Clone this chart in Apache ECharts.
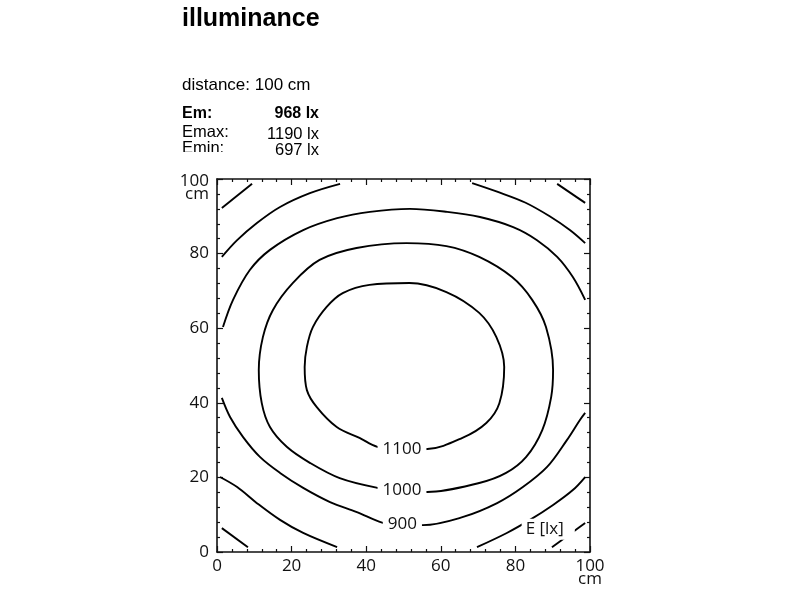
<!DOCTYPE html>
<html><head><meta charset="utf-8">
<script src="https://cdn.jsdelivr.net/npm/echarts@6/dist/echarts.min.js"></script>
<style>html,body{margin:0;padding:0;background:#fff}#c{width:800px;height:600px}</style>
</head><body><div id="c"></div>
<script>
// Axis ticks
const tickValues = [0, 20, 40, 60, 80, 100];
const axisUnit = 'cm';
// Contour lines (x cm, y cm)
const c1100 = [[49.7,27.5],[43.0,28.2],[38.2,30.6],[32.1,33.5],[26.7,38.9],[24.1,43.4],[23.5,49.6],[24.1,55.0],[25.7,60.3],[29.4,65.7],[33.7,69.4],[40.9,71.6],[51.6,72.1],[61.5,69.7],[70.3,64.1],[74.9,57.6],[77.0,49.6],[75.7,39.9],[72.2,34.6],[65.8,30.6],[56.4,27.6],[49.7,27.5]];
const c1000 = [[49.7,16.4],[43.0,17.2],[32.9,19.8],[24.9,23.9],[18.7,28.2],[14.2,33.5],[12.0,39.9],[11.2,48.8],[12.3,57.6],[15.0,64.9],[20.3,72.1],[27.5,78.3],[37.4,81.5],[50.8,82.8],[61.5,82.0],[70.3,79.1],[79.1,73.7],[84.5,67.6],[88.2,60.3],[90.1,48.8],[89.6,41.6],[87.2,32.7],[82.9,25.5],[77.5,21.2],[70.3,18.5],[56.4,16.1],[49.7,16.4]];
const c900top = [[1.6,60.3],[4.3,67.6],[8.8,75.6],[14.2,81.0],[23.1,86.3],[32.2,89.5],[41.0,91.2],[51.7,92.0],[61.7,91.2],[70.5,89.8],[79.4,87.1],[85.8,83.6],[91.2,79.1],[95.4,73.7],[98.7,67.6]];
const c900bottom = [[1.3,41.3],[3.5,36.2],[7.0,30.8],[11.5,25.5],[16.9,21.2],[23.1,17.2],[30.3,13.4],[37.5,10.7],[44.5,7.8],[49.7,7.3],[55.2,7.2],[66.0,9.4],[75.1,13.1],[82.0,17.4],[88.5,22.8],[93.8,30.0],[97.3,35.4],[98.7,37.3]];
const c800ul = [[1.3,79.1],[5.4,83.6],[10.7,88.2],[16.9,92.5],[24.9,96.2],[33.0,98.7]];
const c800ur = [[68.4,98.9],[75.1,96.6],[82.6,93.7],[89.2,90.0],[94.6,86.3],[98.7,82.8]];
const c800ll = [[0.8,20.1],[5.4,17.4],[10.7,13.1],[16.9,8.6],[23.1,5.1],[32.2,1.3]];
const c800lr = [[69.7,1.3],[77.7,5.1],[83.9,8.6],[90.1,12.6],[95.4,16.6],[98.7,20.1]];
const c700ul = [[1.3,92.2],[9.4,98.7]];
const c700ur = [[91.2,98.7],[98.7,93.6]];
const c700ll = [[1.3,6.4],[8.3,1.3]];
const c700lr = [[89.8,1.3],[98.7,7.8]];
// Contour labels
const labelTexts = ['1100', '1000', '900', 'E [lx]'];
const labelX = [49.6, 49.6, 49.7, 88.8];
const labelY = [27.7, 16.5, 7.4, 6.1];
// Header texts
const titleText = 'illuminance';
const distanceText = 'distance: 100 cm';
const statNames = ['Em:', 'Emax:', 'Emin:'];
const statValues = ['968 lx', '1190 lx', '697 lx'];

const lines = [c1100, c1000, c900top, c900bottom, c800ul, c800ur, c800ll, c800lr, c700ul, c700ur, c700ll, c700lr];
const INK = '#111';
const LF = '"Open Sans", sans-serif';

function axisBase(pos, showLabel) {
  return {
    type: 'value', min: 0, max: 100, interval: 20, position: pos,
    axisLine: { show: true, onZero: false, lineStyle: { color: INK, width: 1.6 } },
    axisTick: { show: true, inside: true, length: 6, lineStyle: { color: INK, width: 1.2 } },
    minorTick: { show: true, splitNumber: 5, length: 3, lineStyle: { color: INK, width: 1.2 } },
    splitLine: { show: false }, minorSplitLine: { show: false },
    axisLabel: { show: showLabel }
  };
}
const xb = axisBase('bottom', true);
xb.axisLabel = { show: true, margin: 8, color: INK, fontFamily: LF, fontSize: 17, lineHeight: 13,
  formatter: v => v === 100 ? v + '\n' + axisUnit : String(v) };
const xt = axisBase('top', false);
const yl = axisBase('left', true);
yl.axisLabel = { show: true, margin: 8, color: INK, fontFamily: LF, fontSize: 17, align: 'right',
  formatter: v => v === 100 ? '{e| }\n{a|' + v + '}\n{a|' + axisUnit + '}' : '{a|' + v + '}',
  rich: { e: { lineHeight: 17, fontSize: 10 }, a: { lineHeight: 13, fontFamily: LF, fontSize: 17, color: INK, align: 'right' } } };
const yr = axisBase('right', false);

const series = lines.map(d => ({
  type: 'line', data: d, smooth: 0.35, symbol: 'none', xAxisIndex: 0, yAxisIndex: 0,
  lineStyle: { color: '#000', width: 1.9 }, z: 2, silent: true
}));
series.push({
  type: 'scatter', xAxisIndex: 0, yAxisIndex: 0, z: 10, silent: true,
  symbolSize: 1, itemStyle: { color: '#fff', opacity: 1 },
  data: labelTexts.map((t, i) => ({ value: [labelX[i], labelY[i]], name: t,
    label: i === 3 ? { padding: [3, 11, 1, 4] } : {} })),
  label: { show: true, position: 'inside', formatter: p => p.name, color: '#111', opacity: 1,
    textBorderWidth: 0, textBorderColor: 'transparent', fontFamily: LF, fontSize: 17,
    backgroundColor: '#fff', padding: [1, 5, 1, 5] }
});

const HF = '"Liberation Sans", Arial, sans-serif';
const graphic = [
  { type: 'text', x: 182, y: 19.5, style: { text: titleText, font: 'bold 25px ' + HF, fill: '#000', textAlign: 'left', textVerticalAlign: 'middle' } },
  { type: 'text', x: 182, y: 85, style: { text: distanceText, font: '17px ' + HF, fill: '#000', textAlign: 'left', textVerticalAlign: 'middle' } },
  { type: 'text', x: 182, y: 114, style: { text: statNames[0], font: 'bold 16px ' + HF, fill: '#000', textAlign: 'left', textVerticalAlign: 'middle' } },
  { type: 'text', x: 319, y: 114, style: { text: statValues[0], font: 'bold 16px ' + HF, fill: '#000', textAlign: 'right', textVerticalAlign: 'middle' } },
  { type: 'text', x: 182, y: 132.5, style: { text: statNames[1], font: '16.5px ' + HF, fill: '#000', textAlign: 'left', textVerticalAlign: 'middle' } },
  { type: 'text', x: 319, y: 134.5, style: { text: statValues[1], font: '16.5px ' + HF, fill: '#000', textAlign: 'right', textVerticalAlign: 'middle' } },
  { type: 'text', x: 182, y: 148, style: { text: statNames[2], font: '16.5px ' + HF, fill: '#000', textAlign: 'left', textVerticalAlign: 'middle' } },
  { type: 'text', x: 319, y: 150, style: { text: statValues[2], font: '16.5px ' + HF, fill: '#000', textAlign: 'right', textVerticalAlign: 'middle' } },
  { type: 'rect', shape: { x: 178, y: 152, width: 70, height: 9 }, style: { fill: '#fff' }, z: 100 }
];

const chart = echarts.init(document.getElementById('c'), null, { renderer: 'canvas' });
chart.setOption({
  animation: false,
  backgroundColor: '#fff',
  grid: { left: 217, top: 179, right: 210, bottom: 48, containLabel: false },
  xAxis: [xb, xt],
  yAxis: [yl, yr],
  series: series,
  graphic: graphic
});
</script></body></html>
